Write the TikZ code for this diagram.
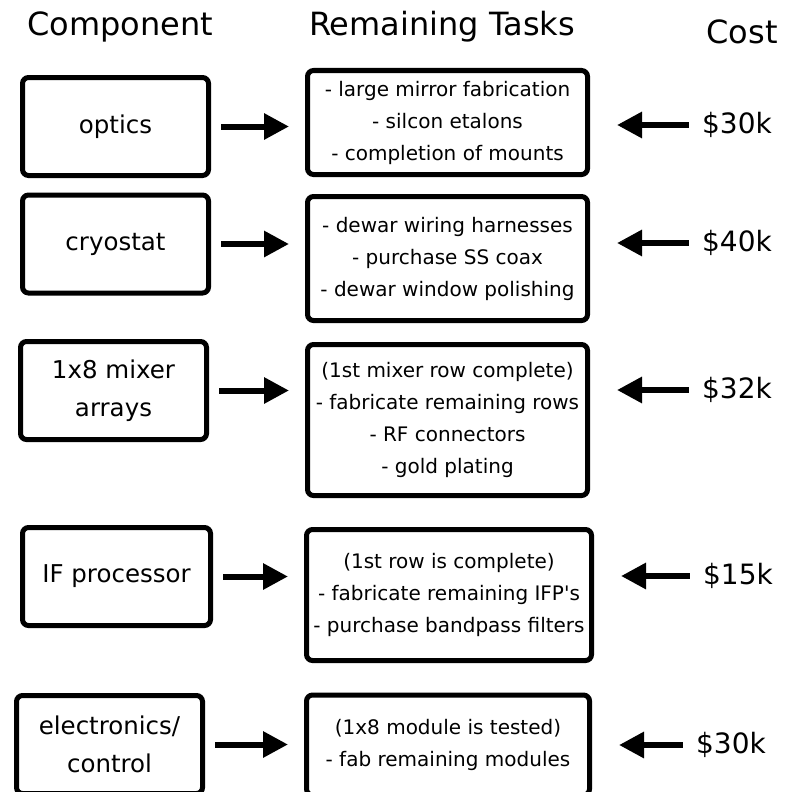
\documentclass[tikz,border=0pt]{standalone}
\usepackage{fontspec}
\setmainfont{DejaVu Sans}
\usepackage{tikz}
\usetikzlibrary{arrows.meta}
\usetikzlibrary{calc}
\tikzstyle{block} = [draw, line width=5pt,
	rounded corners=6pt,
	align=center, inner sep=0pt]
\tikzstyle{comp} = [block, minimum width=186pt, minimum height=98pt,
	font=\fontsize{24.5}{38}\selectfont]
\tikzstyle{task} = [block, minimum width=280pt,
	font=\fontsize{20}{32}\selectfont]
\tikzstyle{cost} = [font=\fontsize{28}{34}\selectfont]
\tikzstyle{head} = [font=\fontsize{32}{38}\selectfont]
\tikzstyle{arrow} = [-{Triangle[length=25pt,width=25pt]}, line width=6pt]
\tikzstyle{toarrow} = [arrow, shorten <=10pt, shorten >=16pt]
\tikzstyle{fromarrow} = [arrow, shorten <=10pt, shorten >=27pt]

\begin{document}
\begin{tikzpicture}[x=1pt, y=-1pt]
	\useasboundingbox (0,0) rectangle (787,792);
	\clip (0,0) rectangle (787,792);
	
	\node (hcomp) [head] at (120,27) {Component};
	\node (htask) [head] at (442,27) {Remaining Tasks};
	\node (hcost) [head] at (742,32) {Cost};
	
	% optics
	\node (optics) [comp] at (115.5,126.5) {optics};
	\node (opticsT) [task, minimum height=104pt] at (447.5,122.5)
		{- large mirror fabrication\\- silcon etalons\\- completion of mounts};
	\node (opticsC) [cost] at (737,125) {\$30k};
	\draw [toarrow] (optics.east) -- (optics.east -| opticsT.west);
	\draw [fromarrow] (opticsC.west) -- (opticsC.west -| opticsT.east);
	
	% cryostat
	\node (cryo) [comp] at (115.5,244) {cryostat};
	\node (cryoT) [task, minimum height=124pt] at (447.5,258.5)
		{- dewar wiring harnesses\\- purchase SS coax\\- dewar window polishing};
	\node (cryoC) [cost] at (737,243) {\$40k};
	\draw [toarrow] (cryo.east) -- (cryo.east -| cryoT.west);
	\draw [fromarrow] (cryoC.west) -- (cryoC.west -| cryoT.east);
	
	% mixer arrays
	\node (mixer) [comp] at (113.5,390.5) {1x8 mixer\\arrays};
	\node (mixerT) [task, minimum height=151pt] at (447.5,420)
		{(1st mixer row complete)\\- fabricate remaining rows\\- RF connectors\\- gold plating};
	\node (mixerC) [cost] at (737,390) {\$32k};
	\draw [toarrow] (mixer.east) -- (mixer.east -| mixerT.west);
	\draw [fromarrow] (mixerC.west) -- (mixerC.west -| mixerT.east);
	
	% IF processor
	\node (ifp) [comp, minimum width=188pt] at (116.5,576.5) {IF processor};
	\node (ifpT) [task, minimum width=285pt, minimum height=131pt] at (449,595)
		{(1st row is complete)\\- fabricate remaining IFP\textquotesingle s\\- purchase bandpass filters};
	\node (ifpC) [cost] at (738,576) {\$15k};
	\draw [toarrow] (ifp.east) -- (ifp.east -| ifpT.west);
	\draw [fromarrow] (ifpC.west) -- (ifpC.west -| ifpT.east);
	
	% electronics
	\node (elec) [comp] at (109.5,744.5) {electronics/\\control};
	\node (elecT) [task, minimum width=283pt, minimum height=100pt] at (448,745)
		{(1x8 module is tested)\\- fab remaining modules};
	\node (elecC) [cost] at (731,745) {\$30k};
	\draw [toarrow] (elec.east) -- (elec.east -| elecT.west);
	\draw [fromarrow] (elecC.west) -- (elecC.west -| elecT.east);
\end{tikzpicture}
\end{document}
